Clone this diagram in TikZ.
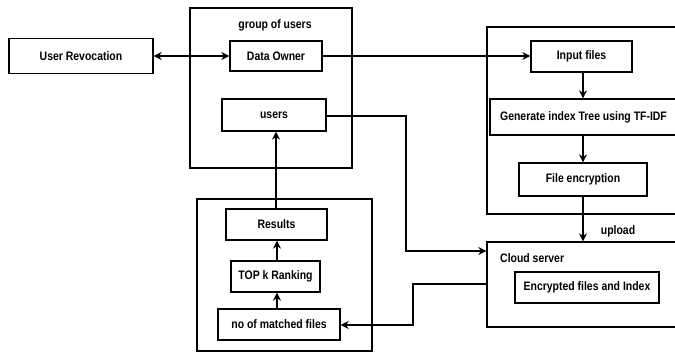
\documentclass[tikz,border=0pt]{standalone}
\usepackage{fontspec}
\setmainfont{Liberation Sans}[FakeStretch=0.85]
\usetikzlibrary{arrows.meta}
\begin{document}
\begin{tikzpicture}[x=1pt,y=-1pt,
  every node/.style={font=\bfseries\fontsize{12.3}{14}\selectfont},
  box/.style={draw,line width=1.3pt,inner sep=0pt},
  conn/.style={line width=1.3pt,-{Stealth[length=8pt,width=8pt]}},
  lbl/.style={inner sep=0pt}]
\useasboundingbox (0,0) rectangle (675,352);
\clip (0,0) rectangle (675,352);
% containers
\node[box,minimum width=162pt,minimum height=160pt] (group) at (271,88) {};
\node[lbl] (grouplbl) at (275,25) {group of users};
\node[box,minimum width=205pt,minimum height=187pt] (right) at (589.5,120.5) {};
\node[box,minimum width=175pt,minimum height=152pt] (bottom) at (284.5,275) {};
\node[box,minimum width=205pt,minimum height=85pt] (cloud) at (589.5,284.5) {};
\node[lbl,anchor=west] (cloudlbl) at (500,258) {Cloud server};
% boxes
\node[box,minimum width=144pt,minimum height=35pt] (rev) at (81,56) {User Revocation};
\node[box,minimum width=92pt,minimum height=30pt] (owner) at (276,56) {Data Owner};
\node[box,minimum width=104pt,minimum height=32pt] (users) at (274,115) {users};
\node[box,minimum width=101pt,minimum height=31pt] (input) at (581.5,56.5) {Input files};
\node[box,minimum width=187pt,minimum height=36pt] (gen) at (583.5,117) {Generate index Tree using TF-IDF};
\node[box,minimum width=128pt,minimum height=33pt] (enc) at (583,179.5) {File encryption};
\node[box,minimum width=144pt,minimum height=31pt] (encf) at (587,287.5) {Encrypted files and Index};
\node[box,minimum width=101pt,minimum height=31pt] (res) at (276.5,224.5) {Results};
\node[box,minimum width=89pt,minimum height=31pt] (topk) at (275.5,276.5) {TOP k Ranking};
\node[box,minimum width=122pt,minimum height=31pt] (match) at (279,324.5) {no of matched files};
\node[lbl] (uplbl) at (618,231) {upload};
% connectors
\draw[conn,{Stealth[length=8pt,width=8pt]}-{Stealth[length=8pt,width=8pt]}] (rev.east) -- (owner.west);
\draw[conn] (owner.east) -- (owner.east -| input.west);
\draw[conn] (input.south -| 583,0) -- (gen.north -| 583,0);
\draw[conn] (gen.south -| 583,0) -- (enc.north -| 583,0);
\draw[conn] (enc.south -| 583,0) -- (cloud.north -| 583,0);
\coordinate (u1) at (406,116);
\coordinate (u2) at (406,251);
\draw[conn] (users.east |- u1) -- (u1) -- (u2) -- (u2 -| cloud.west);
\coordinate (c1) at (413,284);
\coordinate (c2) at (413,325);
\draw[conn] (cloud.west |- c1) -- (c1) -- (c2) -- (c2 -| match.east);
\draw[conn] (match.north -| 277,0) -- (topk.south -| 277,0);
\draw[conn] (topk.north -| 277,0) -- (res.south -| 277,0);
\draw[conn] (res.north -| 276,0) -- (users.south -| 276,0);
\end{tikzpicture}
\end{document}
